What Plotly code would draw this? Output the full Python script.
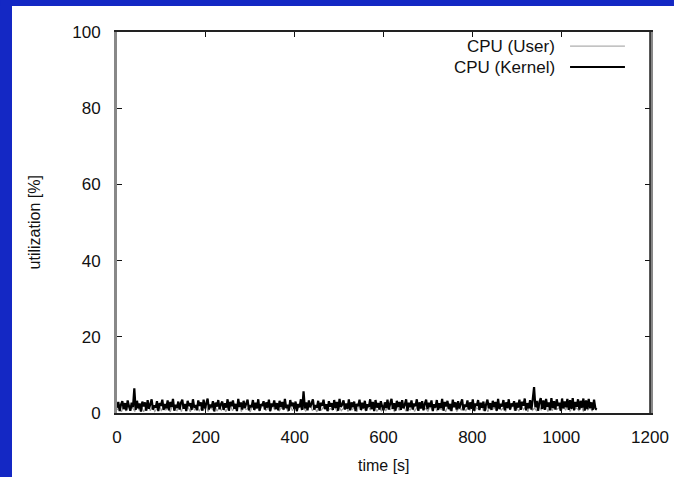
import plotly.graph_objects as go

# ---- data ----
time_kernel = [i * 3 for i in range(361)]  # 0 .. 1080 s, 3 s sampling
cpu_kernel = [
    1.4, 2.9, 0.5, 2.2, 3.1, 1.0, 2.6, 0.7, 3.3, 1.8, 0.6, 2.7, 1.5, 6.5, 0.8, 3.2, 1.2, 2.5, 0.4, 3.0,
    1.7, 2.8, 0.6, 3.4, 1.1, 2.3, 3.6, 0.9, 2.0, 1.4, 3.1, 0.5, 2.6, 1.9, 3.5, 0.8, 2.4, 1.2, 3.3, 0.7,
    2.9, 1.6, 3.7, 0.6, 2.2, 1.3, 3.0, 0.9, 2.7, 3.5, 1.1, 2.4, 0.5, 3.2, 1.8, 2.6, 0.8, 3.6, 1.4, 2.1,
    0.7, 3.3, 1.9, 2.8, 0.6, 3.5, 1.2, 2.5, 3.8, 0.9, 2.2, 1.5, 3.1, 0.4, 2.7, 1.7, 3.4, 1.0, 2.3, 3.0,
    0.8, 2.6, 1.4, 3.6, 0.6, 2.9, 1.8, 3.3, 1.1, 2.4, 0.5, 3.7, 1.6, 2.8, 0.9, 3.2, 1.3, 2.5, 3.5, 0.7,
    2.1, 1.5, 3.4, 0.8, 2.7, 1.2, 3.6, 0.6, 2.3, 1.9, 3.1, 0.9, 2.8, 1.4, 3.5, 0.5, 2.5, 1.7, 3.3, 1.0,
    2.6, 0.7, 3.2, 1.6, 2.9, 0.9, 3.7, 1.3, 2.2, 0.6, 3.4, 1.8, 2.7, 1.1, 3.0, 0.5, 2.4, 1.5, 3.6, 0.8,
    5.7, 1.2, 2.8, 0.7, 3.3, 1.5, 2.5, 3.6, 0.9, 2.1, 1.4, 3.2, 0.6, 2.7, 1.9, 3.5, 1.0, 2.3, 0.5, 3.1,
    1.7, 2.6, 0.8, 3.4, 1.3, 2.9, 0.6, 3.7, 1.6, 2.2, 3.3, 0.9, 2.5, 1.1, 3.6, 0.7, 2.8, 1.5, 3.0, 0.5,
    2.4, 1.8, 3.5, 0.8, 2.7, 1.2, 3.2, 0.6, 2.3, 1.6, 3.6, 1.0, 2.9, 0.5, 3.4, 1.4, 2.6, 0.9, 3.1, 1.7,
    0.7, 2.8, 1.3, 3.5, 0.9, 2.4, 3.7, 1.1, 2.6, 0.6, 3.2, 1.6, 2.9, 0.8, 3.4, 1.2, 2.2, 3.6, 0.5, 2.7,
    1.5, 3.3, 0.9, 2.5, 1.8, 3.6, 0.6, 2.8, 1.2, 3.1, 0.7, 2.4, 3.5, 1.0, 2.7, 1.6, 3.3, 0.5, 2.3, 1.4,
    3.4, 0.8, 2.6, 1.3, 3.7, 0.6, 2.9, 1.7, 3.2, 1.0, 2.4, 0.5, 3.5, 1.5, 2.8, 0.9, 3.1, 1.2, 2.5, 3.6,
    0.7, 2.2, 1.6, 3.3, 0.9, 2.8, 1.1, 3.6, 0.6, 2.5, 1.9, 3.4, 0.8, 2.7, 1.4, 3.0, 0.5, 2.3, 3.5, 1.2,
    2.6, 0.8, 3.2, 1.5, 2.9, 0.6, 3.7, 1.0, 2.4, 1.7, 3.4, 0.7, 2.8, 1.3, 3.6, 0.9, 2.5, 1.8, 3.1, 0.6,
    2.7, 1.4, 3.5, 0.8, 3.0, 1.9, 3.8, 0.7, 2.6, 1.2, 3.4, 0.9, 3.6, 6.8, 1.5, 3.2, 0.6, 2.9, 3.9, 1.1,
    3.3, 0.8, 3.7, 1.6, 2.8, 0.7, 3.9, 1.3, 3.1, 0.9, 3.6, 1.8, 2.7, 0.6, 3.8, 1.2, 3.0, 1.5, 3.7, 0.8,
    3.4, 1.1, 3.9, 0.7, 2.9, 1.6, 3.6, 0.9, 3.2, 1.4, 3.8, 0.6, 3.3, 1.0, 3.7, 1.3, 2.8, 0.8, 3.5, 1.2,
    0.9,
]

time_user = [i * 5 for i in range(217)]  # 0 .. 1080 s, 5 s sampling
cpu_user = [
    0.8, 1.6, 0.3, 1.9, 0.5, 2.2, 0.9, 1.4, 0.4, 2.0, 0.7, 1.8, 0.3, 1.5, 2.1, 0.6, 1.7, 0.4, 1.2, 2.3,
    0.5, 1.9, 0.8, 1.3, 0.3, 2.0, 1.1, 0.6, 1.8, 0.4, 2.2, 0.9, 1.5, 0.3, 1.7, 0.7, 2.1, 0.5, 1.4, 0.8,
    2.0, 0.4, 1.6, 0.9, 2.3, 0.5, 1.3, 0.7, 1.9, 0.3, 1.6, 2.1, 0.6, 1.4, 0.8, 2.2, 0.4, 1.7, 0.9, 1.2,
    0.3, 1.8, 0.7, 2.0, 0.5, 1.5, 2.2, 0.6, 1.3, 0.4, 1.9, 0.8, 2.1, 0.5, 1.4, 0.9, 1.7, 0.3, 2.0, 0.6,
    1.5, 0.4, 2.2, 0.8, 1.3, 0.5, 1.8, 2.1, 0.6, 1.4, 0.3, 1.9, 0.7, 1.6, 2.3, 0.5, 1.2, 0.8, 2.0, 0.4,
    1.7, 0.6, 1.3, 2.1, 0.4, 1.8, 0.9, 1.5, 0.3, 2.2, 0.7, 1.4, 0.5, 1.9, 0.8, 1.6, 2.0, 0.4, 1.3, 0.6,
    2.1, 0.5, 1.7, 0.9, 1.4, 0.3, 2.0, 0.7, 1.6, 2.2, 0.5, 1.3, 0.8, 1.9, 0.4, 1.5, 0.6, 2.1, 0.9, 1.2,
    0.4, 1.8, 0.7, 2.3, 0.5, 1.4, 0.9, 1.7, 0.3, 2.0, 0.6, 1.5, 2.2, 0.4, 1.3, 0.8, 1.9, 0.5, 1.6, 0.7,
    2.0, 0.4, 1.4, 0.8, 2.2, 0.6, 1.7, 0.3, 1.9, 0.9, 1.3, 0.5, 2.1, 0.7, 1.5, 0.4, 1.8, 0.8, 2.3, 0.6,
    1.4, 0.5, 2.0, 0.9, 1.6, 0.3, 2.2, 0.7, 1.3, 0.5, 1.9, 0.8, 1.5, 2.1, 0.4, 1.7, 0.6, 2.0, 0.9, 1.4,
    0.5, 1.8, 0.7, 2.2, 0.4, 1.6, 0.9, 1.3, 0.6, 2.0, 0.4, 1.7, 0.8, 1.5, 0.5, 1.9, 0.7,
]

series_names = ["CPU (User)", "CPU (Kernel)"]
x_ticks = [0, 200, 400, 600, 800, 1000, 1200]
y_ticks = [0, 20, 40, 60, 80, 100]

FONT = "Liberation Sans, Arial, Helvetica, sans-serif"
BLUE = "#1428c4"

fig = go.Figure()
fig.add_trace(go.Scatter(x=time_user, y=cpu_user, mode="lines", name=series_names[0],
                         line=dict(color="#9a9a9a", width=1.2, simplify=False), showlegend=False))
fig.add_trace(go.Scatter(x=time_kernel, y=cpu_kernel, mode="lines", name=series_names[1],
                         line=dict(color="#000000", width=2.2, simplify=False), showlegend=False))

# paper coordinates of the white slide panel edges and figure edges
PX_L, PY_T = -0.197, 1.068
FIG_L, FIG_R, FIG_T, FIG_B = -0.2195, 1.045, 1.084, -0.168
shapes = []
# blue slide frame (left strip and top strip), kept inside the figure
shapes.append(dict(type="rect", xref="paper", yref="paper", layer="below",
                   x0=FIG_L, x1=PX_L, y0=FIG_B, y1=FIG_T, fillcolor=BLUE, line=dict(width=0)))
shapes.append(dict(type="rect", xref="paper", yref="paper", layer="below",
                   x0=FIG_L, x1=FIG_R, y0=PY_T, y1=FIG_T, fillcolor=BLUE, line=dict(width=0)))
# right frame line
shapes.append(dict(type="line", xref="paper", yref="paper", x0=1, x1=1, y0=0, y1=1,
                   line=dict(color="#222", width=1.5)))
# legend samples
shapes.append(dict(type="line", xref="paper", yref="paper", x0=0.85, x1=0.953, y0=0.963, y1=0.963,
                   line=dict(color="#9a9a9a", width=1)))
shapes.append(dict(type="line", xref="paper", yref="paper", x0=0.85, x1=0.953, y0=0.908, y1=0.908,
                   line=dict(color="#000000", width=2)))

annotations = [
    dict(text=series_names[0], xref="paper", yref="paper", x=0.826, y=0.963,
         xanchor="right", yanchor="middle", showarrow=False, font=dict(size=17, color="#111", family=FONT)),
    dict(text=series_names[1], xref="paper", yref="paper", x=0.826, y=0.908,
         xanchor="right", yanchor="middle", showarrow=False, font=dict(size=17, color="#111", family=FONT)),
    dict(text="time [s]", xref="paper", yref="paper", x=0.5, y=-0.137,
         xanchor="center", yanchor="middle", showarrow=False, font=dict(size=16, color="#111", family=FONT)),
    dict(text="utilization [%]", xref="paper", yref="paper", x=-0.154, y=0.5, textangle=-90,
         xanchor="center", yanchor="middle", showarrow=False, font=dict(size=16, color="#111", family=FONT)),
]

fig.update_layout(
    width=674, height=477,
    margin=dict(l=117, r=24, t=32, b=64),
    paper_bgcolor="white", plot_bgcolor="white",
    font=dict(family=FONT, size=17, color="#111"),
    shapes=shapes, annotations=annotations,
    xaxis=dict(range=[0, 1200], tickvals=x_ticks, ticks="inside", ticklen=5, tickcolor="#111",
               showline=True, linecolor="#222", linewidth=1.5, mirror="allticks", automargin=False,
               showgrid=False, zeroline=False, ticklabelstandoff=8),
    yaxis=dict(range=[0, 100], tickvals=y_ticks, ticks="inside", ticklen=5, tickcolor="#111",
               showline=True, linecolor="#888", linewidth=3, mirror="ticks", automargin=False,
               showgrid=False, zeroline=False, ticklabelstandoff=10),
)

fig.write_html("out.html")
